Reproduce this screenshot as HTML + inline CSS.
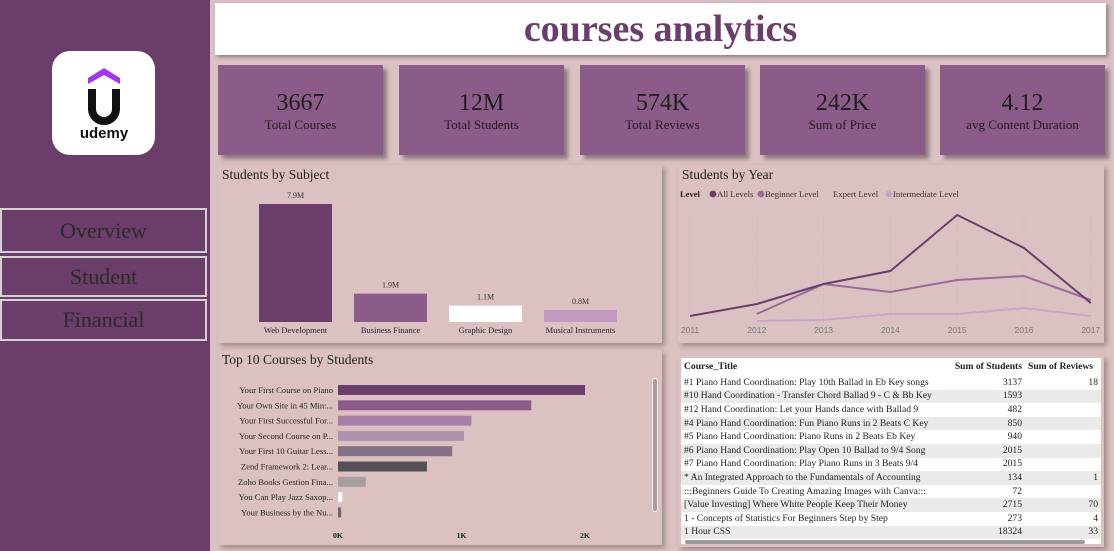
<!DOCTYPE html>
<html><head><meta charset="utf-8"><style>
*{box-sizing:border-box;margin:0;padding:0}
body{width:1114px;height:551px;overflow:hidden;background:#dcc1c3;font-family:"Liberation Serif",serif;position:relative;color:#222}
.abs{position:absolute}
#side{left:0;top:0;width:210px;height:551px;background:#6b3d6a}
.nav{position:absolute;left:0;width:207px;border:2px solid #d4d0d3;color:#2b2b2b;font-size:22px;text-align:center}
.card{position:absolute;top:65px;width:165px;height:90px;background:#8b5c8a;box-shadow:4px 4px 4px #8a7a7c;text-align:center;color:#1e1e1e}
.card .v{font-size:24px;margin-top:24px;line-height:28px}
.card .l{font-size:13px;line-height:15px}
.panel{position:absolute;background:#dcc1c3;box-shadow:3px 3px 5px #9d8a8c}
.ptitle{position:absolute;left:4px;top:2px;font-size:13.5px;color:#1e1e1e}
table{border-collapse:collapse;font-size:9.6px;width:100%;table-layout:fixed}
tr{height:13.6px}
td{height:13.6px;line-height:12px;white-space:nowrap;padding:0 3px;overflow:hidden}
tr.hd,tr.hd td{height:18px}
tr:nth-child(odd):not(:first-child) td{background:#ebe9ea}
td.n{text-align:right}
</style></head><body>
<div id="side" class="abs">
 <div class="abs" style="left:52px;top:51px;width:103px;height:104px;background:#fff;border-radius:18px;">
  <svg width="103" height="104">
   <polygon points="36,27 52,17 68,27 68,33 52,24 36,33" fill="#a435f0"/>
   <path d="M40,38 V58 A12,12 0 0 0 64,58 V38" stroke="#111" stroke-width="8" fill="none"/>
   <text x="52" y="87" text-anchor="middle" font-family="Liberation Sans,sans-serif" font-weight="bold" font-size="15" fill="#111">udemy</text>
  </svg>
 </div>
 <div class="nav" style="top:208px;height:45px;line-height:41px">Overview</div>
 <div class="nav" style="top:256px;height:41px;line-height:37px">Student</div>
 <div class="nav" style="top:299px;height:42px;line-height:38px">Financial</div>
</div>
<div class="abs" style="left:215px;top:3px;width:891px;height:52px;background:#fff;box-shadow:2px 2px 4px #8a7a7c;text-align:center;font-size:38px;font-weight:bold;color:#6b3d6a;line-height:52px">courses analytics</div>

<div class="card" style="left:218px"><div class="v">3667</div><div class="l">Total Courses</div></div>
<div class="card" style="left:399px"><div class="v">12M</div><div class="l">Total Students</div></div>
<div class="card" style="left:580px"><div class="v">574K</div><div class="l">Total Reviews</div></div>
<div class="card" style="left:760px"><div class="v">242K</div><div class="l">Sum of Price</div></div>
<div class="card" style="left:940px"><div class="v">4.12</div><div class="l">avg Content Duration</div></div>

<div class="panel" style="left:218px;top:165px;width:444px;height:178px">
 <div class="ptitle">Students by Subject</div>
 <svg id="subj" class="abs" style="left:0;top:0" width="444" height="178"></svg>
</div>
<div class="panel" style="left:678px;top:165px;width:426px;height:178px">
 <div class="ptitle">Students by Year</div>
 <svg id="year" class="abs" style="left:0;top:0" width="426" height="178"></svg>
</div>
<div class="panel" style="left:218px;top:350px;width:444px;height:195px">
 <div class="ptitle">Top 10 Courses by Students</div>
 <svg id="top" class="abs" style="left:0;top:0" width="444" height="195"></svg>
 <div class="abs" style="left:434px;top:28px;width:6px;height:134px;background:#a99c9e;border-radius:3px;border:1px solid #eee"></div>
</div>
<div class="panel" style="left:678px;top:355px;width:426px;height:192px;background:#fff;border:3px solid #dcc1c3;overflow:hidden">
 <table>
  <colgroup><col style="width:264px"><col style="width:80px"><col></colgroup>
  <tr class="hd" style="font-weight:bold"><td>Course_Title</td><td class="n">Sum of Students</td><td>Sum of Reviews</td></tr>
  <tr><td>#1 Piano Hand Coordination: Play 10th Ballad in Eb Key songs</td><td class="n">3137</td><td class="n">18</td></tr>
  <tr><td>#10 Hand Coordination - Transfer Chord Ballad 9 - C &amp; Bb Key</td><td class="n">1593</td><td class="n"></td></tr>
  <tr><td>#12 Hand Coordination: Let your Hands dance with Ballad 9</td><td class="n">482</td><td class="n"></td></tr>
  <tr><td>#4 Piano Hand Coordination: Fun Piano Runs in 2 Beats C Key</td><td class="n">850</td><td class="n"></td></tr>
  <tr><td>#5 Piano Hand Coordination: Piano Runs in 2 Beats Eb Key</td><td class="n">940</td><td class="n"></td></tr>
  <tr><td>#6 Piano Hand Coordination: Play Open 10 Ballad to 9/4 Song</td><td class="n">2015</td><td class="n"></td></tr>
  <tr><td>#7 Piano Hand Coordination: Play Piano Runs in 3 Beats 9/4</td><td class="n">2015</td><td class="n"></td></tr>
  <tr><td>* An Integrated Approach to the Fundamentals of Accounting</td><td class="n">134</td><td class="n">1</td></tr>
  <tr><td>:::Beginners Guide To Creating Amazing Images with Canva:::</td><td class="n">72</td><td class="n"></td></tr>
  <tr><td>[Value Investing] Where White People Keep Their Money</td><td class="n">2715</td><td class="n">70</td></tr>
  <tr><td>1 - Concepts of Statistics For Beginners Step by Step</td><td class="n">273</td><td class="n">4</td></tr>
  <tr><td>1 Hour CSS</td><td class="n">18324</td><td class="n">33</td></tr>
 </table>
 <div class="abs" style="left:4px;top:182px;width:400px;height:4px;background:#9a9a9a;border-radius:2px"></div>
</div>

<script>
const NS="http://www.w3.org/2000/svg";
function mk(p,t,a,txt){const e=document.createElementNS(NS,t);for(const k in a)e.setAttribute(k,a[k]);if(txt!==undefined)e.textContent=txt;p.appendChild(e);return e;}

// Students by Subject
const subjects=["Web Development","Business Finance","Graphic Design","Musical Instruments"];
const subjectValues=[7.9,1.9,1.1,0.8];
const subjectLabels=["7.9M","1.9M","1.1M","0.8M"];
const subjectColors=["#6b3d6a","#8b5c8a","#ffffff","#c39bc2"];
{
 const s=document.getElementById('subj');
 const base=157, sc=118/7.9, x0=41, step=95, bw=73;
 subjects.forEach((c,i)=>{
  const h=subjectValues[i]*sc, x=x0+i*step;
  const r=mk(s,'rect',{x:x,y:base-h,width:bw,height:h,fill:subjectColors[i]});
  
  
  const t=mk(s,'text',{x:x+bw/2,y:base-h-6,'text-anchor':'middle','font-size':8,fill:'#333'},subjectLabels[i]);
  
  
  const c2=mk(s,'text',{x:x+bw/2,y:base+11,'text-anchor':'middle','font-size':8.5,fill:'#222'},c);
  
  
 });
}

// Students by Year
const years=[2011,2012,2013,2014,2015,2016,2017];
const allLevels=[0.25,0.55,1.05,1.375,2.775,1.95,0.575];
const beginnerLevel=[null,0.3,1.05,0.85,1.15,1.25,0.65];
const intermediateLevel=[null,0.125,0.15,0.3,0.3,0.45,0.25];
const legendNames=["All Levels","Beginner Level","Expert Level","Intermediate Level"];
{
 const s=document.getElementById('year');
 const xs=i=>12+i*66.8, ys=v=>161-v*40;
 years.forEach((y,i)=>{
  mk(s,'line',{x1:xs(i),x2:xs(i),y1:48,y2:158,stroke:'#cdb3b6','stroke-dasharray':'1,2'});
  const t=mk(s,'text',{x:xs(i),y:168,'text-anchor':'middle','font-size':8.5,fill:'#777','font-family':'Liberation Sans,sans-serif'},y);
  
  
 });
 const series=[[intermediateLevel,'#c8a6c9'],[beginnerLevel,'#9a6b99'],[allLevels,'#6b3d6a']];
 series.forEach(([d,col])=>{
  let p='';d.forEach((v,i)=>{if(v!==null)p+=(p?'L':'M')+xs(i)+','+ys(v);});
  const l=mk(s,'path',{d:p,fill:'none',stroke:col,'stroke-width':2});
  
  
 });
 const lg=mk(s,'text',{x:2,y:32,'font-size':8.5,'font-weight':'bold',fill:'#222'},'Level');
 
 
 const lx=[35,83,155,211], lc=['#6b3d6a','#9a6b99',null,'#c8a6c9'];
 legendNames.forEach((n,i)=>{
  if(lc[i])mk(s,'circle',{cx:lx[i],cy:29,r:3.4,fill:lc[i]});
  const t=mk(s,'text',{x:lx[i]+(lc[i]?4:0),y:32,'font-size':8.7,fill:'#333'},n);
  
  
 });
}

// Top 10 Courses
const courses=["Your First Course on Piano","Your Own Site in 45 Min:...","Your First Successful For...","Your Second Course on P...","Your First 10 Guitar Less...","Zend Framework 2: Lear...","Zoho Books Gestion Fina...","You Can Play Jazz Saxop...","Your Business by the Nu..."];
const courseStudents=[2000,1565,1080,1020,925,720,225,35,25];
const courseColors=["#6b3d6a","#8b5c8a","#a77fa6","#ad93ab","#857084","#555055","#a69ea2","#ffffff","#6d6569"];
const xTicks=[0,1000,2000];
const xTickLabels=["0K","1K","2K"];
{
 const s=document.getElementById('top');
 const xs=v=>120+v*0.1235;
 courses.forEach((c,i)=>{
  const y=35+i*15.3;
  const r=mk(s,'rect',{x:xs(0),y:y,width:xs(courseStudents[i])-xs(0),height:10,fill:courseColors[i]});
  
  
  const t=mk(s,'text',{x:115,y:y+8,'text-anchor':'end','font-size':8.6,fill:'#222'},c);
  
  
 });
 xTicks.forEach((v,i)=>{
  const t=mk(s,'text',{x:xs(v),y:188,'text-anchor':'middle','font-size':7.8,'font-weight':'bold',fill:'#222'},xTickLabels[i]);
  
  
 });
}
</script>
</body></html>
